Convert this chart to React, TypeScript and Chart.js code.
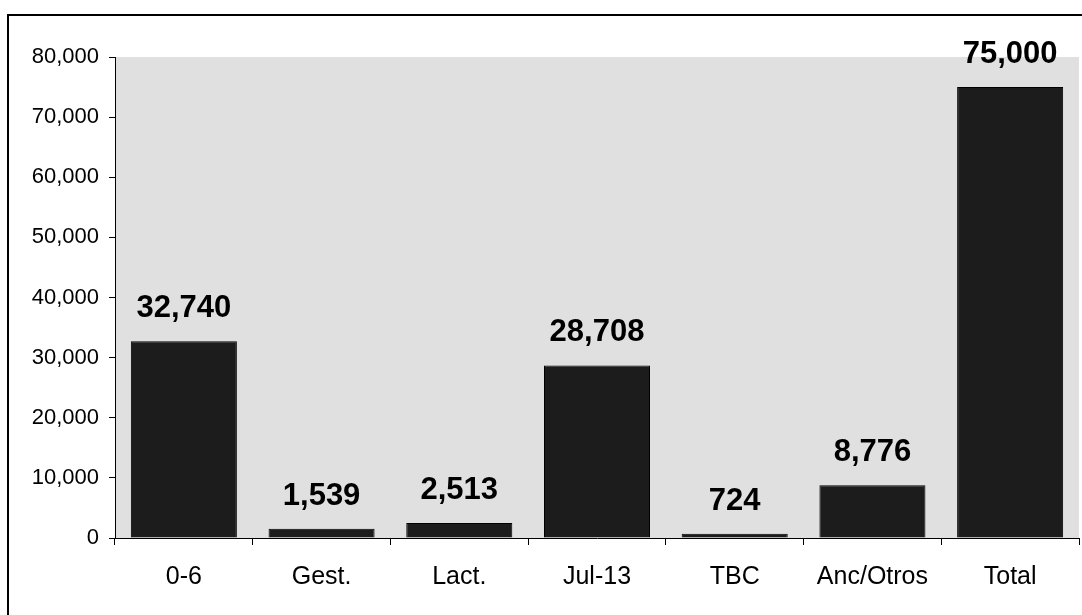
import React, { useEffect, useRef } from "react";
import { Chart, registerables } from "chart.js";

Chart.register(...registerables);

const categories = ["0-6", "Gest.", "Lact.", "Jul-13", "TBC", "Anc/Otros", "Total"];
const values = [32740, 1539, 2513, 28708, 724, 8776, 75000];
const yMin = 0;
const yMax = 80000;
const yStep = 10000;

const FONT = "'Liberation Sans', Arial, sans-serif";

const valueLabels = {
  id: "valueLabels",
  afterDatasetsDraw(chart: any) {
    const ctx = chart.ctx;
    const meta = chart.getDatasetMeta(0);
    ctx.save();
    ctx.font = `bold 31px ${FONT}`;
    ctx.fillStyle = "#000";
    ctx.textAlign = "center";
    ctx.textBaseline = "alphabetic";
    meta.data.forEach((bar: any, i: number) => {
      const v = chart.data.datasets[0].data[i] as number;
      ctx.fillText(v.toLocaleString("en-US"), bar.x, bar.y - 24);
    });
    ctx.restore();
  },
};

export default function App() {
  const ref = useRef<HTMLCanvasElement | null>(null);
  useEffect(() => {
    if (!ref.current) return;
    const chart = new Chart(ref.current, {
      type: "bar",
      data: {
        labels: categories,
        datasets: [
          {
            data: values,
            backgroundColor: "#1c1c1c",
            borderColor: "#000",
            borderWidth: 1,
            barPercentage: 0.77,
            categoryPercentage: 1,
          },
        ],
      },
      options: {
        animation: false,
        responsive: false,
        events: [],
        layout: { padding: { left: 0, top: 57, right: 3, bottom: 0 } },
        plugins: { legend: { display: false }, tooltip: { enabled: false } },
        scales: {
          x: {
            offset: true,
            grid: {
              offset: true,
              drawOnChartArea: false,
              drawTicks: true,
              tickLength: 7,
              color: "#000",
            },
            border: { display: true, color: "#000", width: 1 },
            ticks: {
              color: "#000",
              font: { family: FONT, size: 25 },
              padding: 17,
              maxRotation: 0,
              autoSkip: false,
            },
            afterFit: (s: any) => {
              s.height = 615 - 538;
            },
          },
          y: {
            min: yMin,
            max: yMax,
            grid: {
              drawOnChartArea: false,
              drawTicks: true,
              tickLength: 6,
              color: "#000",
            },
            border: { display: true, color: "#000", width: 1 },
            ticks: {
              stepSize: yStep,
              color: "#000",
              font: { family: FONT, size: 22 },
              padding: 10,
              callback: (v: any) => Number(v).toLocaleString("en-US"),
            },
            afterFit: (s: any) => {
              s.width = 115;
            },
          },
        },
      },
      plugins: [
        {
          id: "plotBg",
          beforeDraw(chart: any) {
            const { ctx, chartArea } = chart;
            ctx.save();
            ctx.fillStyle = "#e0e0e0";
            ctx.fillRect(
              chartArea.left,
              chartArea.top,
              chartArea.right - chartArea.left,
              chartArea.bottom - chartArea.top
            );
            ctx.restore();
          },
        },
        valueLabels,
      ],
    });
    return () => chart.destroy();
  }, []);

  return (
    <div
      style={{
        position: "absolute",
        left: 0,
        top: 0,
        width: 1082,
        height: 615,
        overflow: "hidden",
        background: "#fff",
      }}
    >
      <div
        style={{
          position: "absolute",
          left: 7,
          top: 14,
          width: 1200,
          height: 800,
          borderLeft: "2px solid #000",
          borderTop: "2px solid #000",
        }}
      />
      <canvas
        ref={ref}
        width={1082}
        height={615}
        style={{ position: "absolute", left: 0, top: 0, width: 1082, height: 615 }}
      />
    </div>
  );
}
